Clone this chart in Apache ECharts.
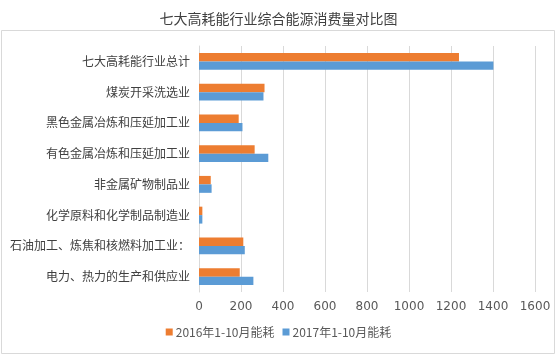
<!DOCTYPE html>
<html><head><meta charset="utf-8">
<script src="https://cdn.jsdelivr.net/npm/echarts@6/dist/echarts.min.js"></script>
<style>html,body{margin:0;padding:0;background:#fff;}#c{width:557px;height:356px;}</style>
</head><body><div id="c"></div>
<script>
const categories = ['七大高耗能行业总计','煤炭开采洗选业','黑色金属冶炼和压延加工业','有色金属冶炼和压延加工业','非金属矿物制品业','化学原料和化学制品制造业','石油加工、炼焦和核燃料加工业：','电力、热力的生产和供应业'];
const seriesNames = ['2016年1-10月能耗','2017年1-10月能耗'];
const values2016 = [1238, 312, 189, 265, 56, 16, 211, 194];
const values2017 = [1402, 307, 207, 330, 60, 16, 218, 259];
const xTicks = [0, 1600, 200];

const chart = echarts.init(document.getElementById('c'), null, {renderer:'canvas'});
const CJK = '"Noto Sans CJK SC", sans-serif';
chart.setOption({
  animation:false,
  backgroundColor:'#fff',
  title:{text:'七大高耗能行业综合能源消费量对比图', left:'center', top:7,
    textStyle:{fontFamily:CJK, fontSize:14, fontWeight:'normal', color:'#404040'}},
  graphic:[{type:'rect', shape:{x:1.5,y:30.5,width:553,height:323}, style:{fill:'none', stroke:'#d9d9d9', lineWidth:1}, silent:true, z:-1}],
  legend:{bottom:13, left:'center', itemWidth:7, itemHeight:7, itemGap:8, icon:'rect',
    textStyle:{fontFamily:CJK, fontSize:12, color:'#595959', padding:[0,0,0,-2]}, data:seriesNames},
  grid:{left:199, right:22, top:46, bottom:64, containLabel:false},
  xAxis:{type:'value', min:xTicks[0], max:xTicks[1], interval:xTicks[2],
    axisLine:{show:false}, axisTick:{show:false},
    splitLine:{lineStyle:{color:'#d9d9d9'}},
    axisLabel:{color:'#595959', fontSize:12, fontFamily:'"DejaVu Sans", sans-serif', margin:9,
      formatter:function(v){return String(v);}}},
  yAxis:{type:'category', data:categories, inverse:true,
    axisLine:{lineStyle:{color:'#d9d9d9'}}, axisTick:{show:false},
    axisLabel:{color:'#404040', fontSize:12, fontFamily:CJK, margin:9}},
  series:[
    {name:seriesNames[0], type:'bar', data:values2016, itemStyle:{color:'#ED7D31'}, barGap:'0%', barCategoryGap:'45%'},
    {name:seriesNames[1], type:'bar', data:values2017, itemStyle:{color:'#5B9BD5'}, barGap:'0%', barCategoryGap:'45%'}
  ]
});
</script></body></html>
